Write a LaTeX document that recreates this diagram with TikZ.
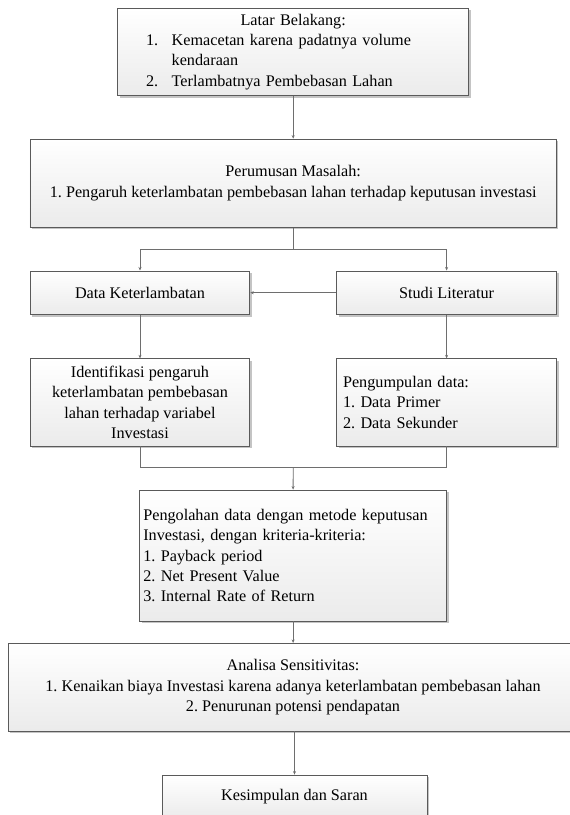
\documentclass[tikz,border=0pt]{standalone}
\usepackage{fontspec}
\setmainfont{Liberation Serif}
\usetikzlibrary{shadows,arrows.meta}
\definecolor{boxline}{HTML}{5A5A5A}
\definecolor{conn}{HTML}{6E6E6E}
\definecolor{boxbot}{HTML}{EBEBEB}
\definecolor{shad}{HTML}{C4C4C4}
\tikzset{
  flowbox/.style={draw=boxline, line width=0.8pt, top color=white, bottom color=boxbot,
    rectangle, inner sep=0pt, font=\fontsize{16.2}{20.4}\selectfont\frenchspacing,
    drop shadow={shadow xshift=2pt, shadow yshift=-2pt, fill=shad, opacity=1}},
  conline/.style={draw=conn, line width=0.8pt},
  conarrow/.style={conline, -{Stealth[length=3.5pt,width=3pt]}}
}
\begin{document}
\begin{tikzpicture}[x=1pt,y=-1pt]
\useasboundingbox (0,0) rectangle (570,815);
\fill[white] (0,0) rectangle (570,815);
% boxes
\node[flowbox, minimum width=351pt, minimum height=87.7pt, text width=351pt, align=left] (lb) at (293.2,51.8)
 {\makebox[351pt][c]{Latar Belakang:}\\
  \hspace*{28.3pt}\makebox[25.7pt][l]{1.}Kemacetan karena padatnya volume\\
  \hspace*{54pt}kendaraan\\
  \hspace*{28.3pt}\makebox[25.7pt][l]{2.}Terlambatnya Pembebasan Lahan};
\node[flowbox, minimum width=526.5pt, minimum height=88.3pt, align=center] (pm) at (293.2,183.2)
 {Perumusan Masalah:\\1. Pengaruh keterlambatan pembebasan lahan terhadap keputusan investasi};
\node[flowbox, minimum width=219.7pt, minimum height=43.6pt] (dk) at (140,292.7) {Data Keterlambatan};
\node[flowbox, minimum width=219.8pt, minimum height=43.6pt] (sl) at (446.6,292.7) {Studi Literatur};
\node[flowbox, minimum width=219.7pt, minimum height=87.3pt, align=center] (id) at (140,402.4)
 {Identifikasi pengaruh\\keterlambatan pembebasan\\lahan terhadap variabel\\Investasi};
\node[flowbox, minimum width=219.8pt, minimum height=87.3pt, text width=207.2pt, align=left] (pd) at (446.6,402.4)
 {Pengumpulan data:\\1. Data Primer\\2. Data Sekunder};
\node[flowbox, minimum width=306.8pt, minimum height=131pt, text width=299.6pt, align=left] (po) at (293.1,555.5)
 {Pengolahan data dengan metode keputusan\\Investasi, dengan kriteria-kriteria:\\1. Payback period\\2. Net Present Value\\3. Internal Rate of Return};
\node[flowbox, minimum width=570pt, minimum height=87.7pt, align=center] (an) at (293,687.2)
 {Analisa Sensitivitas:\\1. Kenaikan biaya Investasi karena adanya keterlambatan pembebasan lahan\\2. Penurunan potensi pendapatan};
\node[flowbox, minimum width=265pt, minimum height=43.6pt] (ks) at (294.5,796.8) {Kesimpulan dan Saran};
% connectors
\coordinate (split) at (293.2,249);
\coordinate (join) at (293.2,467.3);
\draw[conarrow] (lb) -- (pm);
\draw[conline] (pm.south) -- (split);
\draw[conarrow] (split) -| (dk.north);
\draw[conarrow] (split) -| (sl.north);
\draw[conarrow] (sl.west) -- (dk.east);
\draw[conarrow] (dk) -- (id);
\draw[conarrow] (sl) -- (pd);
\draw[conline] (id.south) |- (join);
\draw[conline] (pd.south) |- (join);
\draw[conarrow] (join) -- (po.north);
\draw[conarrow] (po.south) -- (po.south |- an.north);
\draw[conarrow] (an.south -| ks.north) -- (ks.north);
\end{tikzpicture}
\end{document}
